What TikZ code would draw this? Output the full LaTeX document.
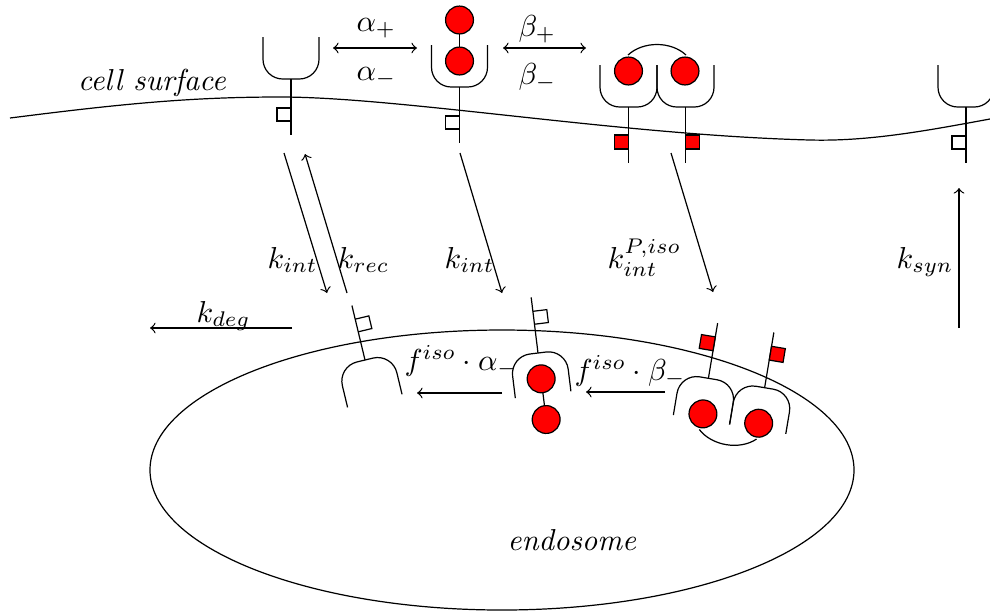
\documentclass[tikz,border=0pt]{standalone}
\begin{document}
\begin{tikzpicture}[x=0.33pt,y=-0.33pt,>=to,
  lbl/.style={inner sep=0pt},
  ligand/.style={fill=red,draw=black},
  pflag/.style={fill=red,draw=black},
  cupline/.style={rounded corners=6.5pt},
  % single receptor: cup, transmembrane stem and a side flag (open)
  pics/receptor/.style={code={
    \draw[cupline] (-28,-42) -- (-28,0) -- (28,0) -- (28,-42);
    \draw (0,0) -- (0,56);
    \draw (0,29) -| (-14,42) -- (0,42);
  }},
  % receptor carrying a two-bead ligand
  pics/bound/.style={code={
    \draw[cupline] (-28,-42) -- (-28,0) -- (28,0) -- (28,-42);
    \draw (0,0) -- (0,56);
    \draw (0,29) -| (-14,42) -- (0,42);
    \draw (0,-26) -- (0,-67);
    \draw[ligand] (0,-26) circle[radius=4.6pt];
    \draw[ligand] (0,-67) circle[radius=4.6pt];
  }},
  % phosphorylated dimer with a bridging ligand
  pics/dimer/.style={code={
    \draw[cupline] (-57,-42) -- (-57,0) -- (0,0) -- (0,-42);
    \draw[cupline] (0,-42) -- (0,0) -- (57,0) -- (57,-42);
    \draw (-28.5,0) -- (-28.5,56);
    \draw (28.5,0) -- (28.5,56);
    \draw[pflag] (-28.5,28) rectangle (-42.5,42);
    \draw[pflag] (28.5,28) rectangle (42.5,42);
    \draw (-29,-52) .. controls (-14,-66) and (14,-66) .. (29,-52);
    \draw[ligand] (-28.5,-36) circle[radius=4.6pt];
    \draw[ligand] (28,-36) circle[radius=4.6pt];
  }}]
\useasboundingbox (0,0) rectangle (990,612);

% plasma membrane and endosome
\draw (10,118) .. controls (120,104) and (190,97) .. (280,97)
  .. controls (400,97) and (620,135) .. (810,140)
  .. controls (870,141.6) and (930,130) .. (990,119);
\draw (502,470) ellipse[x radius=352, y radius=140];

% receptors at the cell surface
\pic (r1) at (291,79) {receptor};
\pic (r2) at (459.5,87) {bound};
\pic (r3) at (657,107) {dimer};
\pic (r4) at (966,107) {receptor};

% receptors in the endosome
\pic[rotate=193.5] (e1) at (365,360) {receptor};
\pic[rotate=187] (e2) at (538,353) {bound};
\pic[rotate=170.5] (e3) at (736.5,383) {dimer};

% arrow end points
\coordinate (a1s) at (333,48);  \coordinate (a1e) at (417,48);
\coordinate (b1s) at (503,48);  \coordinate (b1e) at (586,48);
\coordinate (i1s) at (284,153); \coordinate (i1e) at (327,293);
\coordinate (c1s) at (347,293); \coordinate (c1e) at (305,154);
\coordinate (i2s) at (460,153); \coordinate (i2e) at (502,293);
\coordinate (i3s) at (671,153); \coordinate (i3e) at (713,292);
\coordinate (ss) at (959,328);  \coordinate (se) at (959,188);
\coordinate (ds) at (292,328);  \coordinate (de) at (150,328);
\coordinate (fas) at (502,393); \coordinate (fae) at (417,393);
\coordinate (fbs) at (665,392); \coordinate (fbe) at (586,392);

\draw[<->] (a1s) -- (a1e);
\draw[<->] (b1s) -- (b1e);
\draw[->] (i1s) -- (i1e);
\draw[->] (c1s) -- (c1e);
\draw[->] (i2s) -- (i2e);
\draw[->] (i3s) -- (i3e);
\draw[->] (ss) -- (se);
\draw[->] (ds) -- (de);
\draw[->] (fas) -- (fae);
\draw[->] (fbs) -- (fbe);

% labels
\node[lbl,anchor=base] (tcs) at (152,90) {\textit{cell surface}};
\node[lbl,anchor=base west] (tap) at (356,31) {$\alpha_+$};
\node[lbl,anchor=base west] (tam) at (356,80) {$\alpha_-$};
\node[lbl,anchor=base west] (tbp) at (518,36) {$\beta_+$};
\node[lbl,anchor=base west] (tbm) at (518,84) {$\beta_-$};
\node[lbl,anchor=base west] (tki1) at (267,268) {$k_{int}$};
\node[lbl,anchor=base west] (tkr) at (337,268) {$k_{rec}$};
\node[lbl,anchor=base west] (tki2) at (444,268) {$k_{int}$};
\node[lbl,anchor=base west] (tki3) at (607,268) {$k_{int}^{P,iso}$};
\node[lbl,anchor=base west] (tks) at (896,268) {$k_{syn}$};
\node[lbl,anchor=base west] (tkd) at (196,322) {$k_{deg}$};
\node[lbl,anchor=base west] (tfa) at (404,370) {$f^{iso}\cdot\alpha_-$};
\node[lbl,anchor=base west] (tfb) at (574,380) {$f^{iso}\cdot\beta_-$};
\node[lbl,anchor=base] (tend) at (572,550) {\textit{endosome}};
\end{tikzpicture}
\end{document}
